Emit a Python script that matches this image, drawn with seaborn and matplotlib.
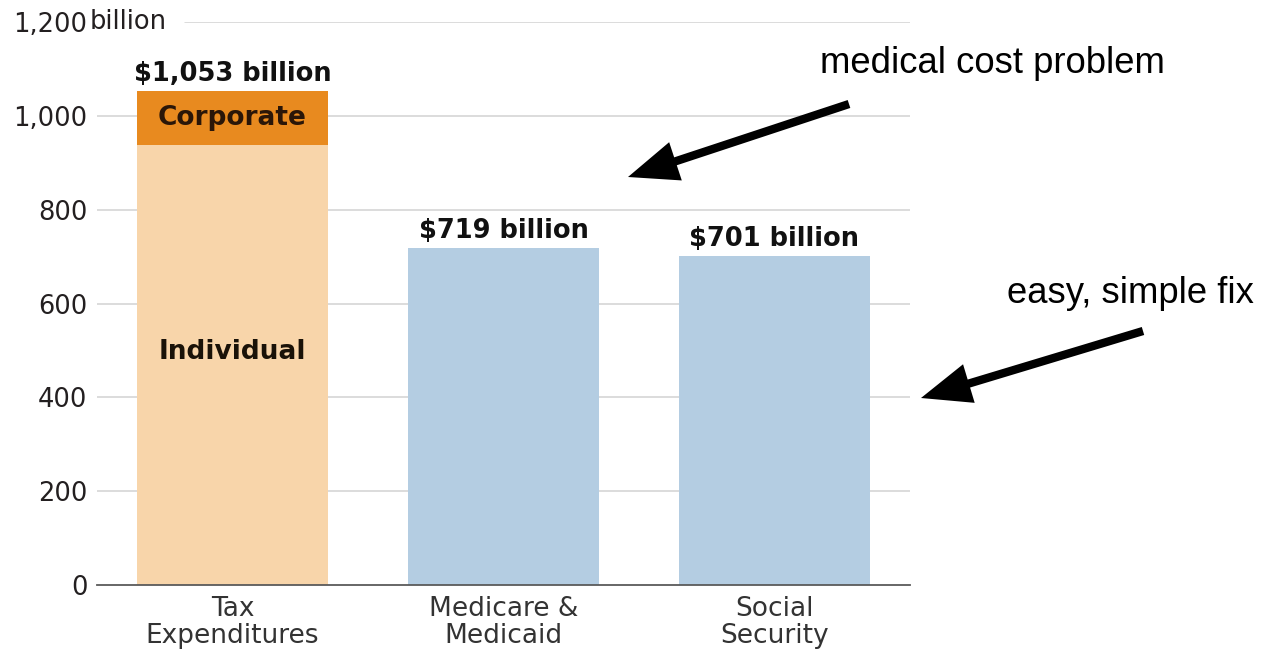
import matplotlib
matplotlib.use("Agg")
import matplotlib.pyplot as plt
import matplotlib.transforms as mtransforms
from matplotlib.patches import FancyArrowPatch
import pandas as pd
import seaborn as sns

# Spending categories and their totals, in billions of dollars
categories = ["Tax\nExpenditures", "Medicare &\nMedicaid", "Social\nSecurity"]
totals = [1053, 719, 701]
individual_part = [938]          # individual share of tax expenditures
value_labels = ["$1,053 billion", "$719 billion", "$701 billion"]
y_ticks = [0, 200, 400, 600, 800, 1000, 1200]
y_tick_labels = ["0", "200", "400", "600", "800", "1,000", "1,200"]

ORANGE = "#E88A1F"
PEACH = "#F8D5AA"
BLUE = "#B4CDE2"

sns.set_theme(style="white")
plt.rcParams["font.family"] = ["DejaVu Sans"]

W, H = 1278, 662
fig = plt.figure(figsize=(W / 100, H / 100), dpi=100)
ax = fig.add_axes([97 / W, 1 - 585 / H, 813 / W, 563 / H])

df_tot = pd.DataFrame({"category": categories, "value": totals})
df_ind = pd.DataFrame({"category": categories[:1], "value": individual_part})

# Full-height bars; the tax bar shows the corporate slice on top
sns.barplot(data=df_tot, x="category", y="value", hue="category", order=categories,
            palette={categories[0]: ORANGE, categories[1]: BLUE, categories[2]: BLUE},
            width=0.705, saturation=1, legend=False, ax=ax, zorder=3,
            edgecolor="none", linewidth=0)
# Individual part of the tax expenditures, drawn over the lower section
sns.barplot(data=df_ind, x="category", y="value", order=categories,
            color=PEACH, width=0.705, saturation=1, ax=ax, zorder=4,
            edgecolor="none", linewidth=0)

ax.set_xlim(-0.5, 2.5)
ax.set_ylim(0, 1200)
ax.set_xlabel("")
ax.set_ylabel("")

# Light horizontal rules; the top one makes room for its unit label
for t in y_ticks[1:]:
    xmin = 0.108 if t == y_ticks[-1] else 0.0
    ax.axhline(t, xmin=xmin, xmax=1, color="#d2d2d2", lw=1.1, zorder=1)

ax.set_yticks(y_ticks)
ax.set_yticklabels(y_tick_labels, fontsize=18.5, color="#231f20")
ax.tick_params(axis="y", length=0, pad=7)
ax.set_xticks(range(len(categories)))
ax.set_xticklabels(categories, fontsize=19, color="#333333", linespacing=1.05)
ax.tick_params(axis="x", length=0, pad=8)

for s in ["top", "right", "left"]:
    ax.spines[s].set_visible(False)
ax.spines["bottom"].set_color("#5a5a5a")
ax.spines["bottom"].set_linewidth(1.3)
ax.spines["bottom"].set_zorder(5)

# Unit after the top tick value
trans = mtransforms.blended_transform_factory(ax.transAxes, ax.transData)
ax.annotate("billion", xy=(0, y_ticks[-1]), xycoords=trans, xytext=(-5, 0),
            textcoords="offset points", ha="left", va="center",
            fontsize=18.5, color="#231f20")

# Totals above the bars
for i, (v, lab) in enumerate(zip(totals, value_labels)):
    ax.annotate(lab, xy=(i, v), xytext=(0, 7), textcoords="offset points",
                ha="center", va="baseline", fontsize=18.5, fontweight="bold",
                color="#111111", zorder=6)

# Labels inside the tax bar
ax.text(0, (totals[0] + individual_part[0]) / 2, "Corporate", ha="center", va="center",
        fontsize=19, fontweight="bold", color="#2a1608", zorder=6)
ax.text(0, 497, "Individual", ha="center", va="center",
        fontsize=19, fontweight="bold", color="#1a1208", zorder=6)

# Commentary with arrows
fig.text(820 / W, 1 - 73 / H, "medical cost problem", family="Liberation Sans",
         fontsize=26.3, color="black", ha="left", va="baseline")
fig.text(1254 / W, 1 - 303 / H, "easy, simple fix", family="Liberation Sans",
         fontsize=26.3, color="black", ha="right", va="baseline")

arrow_kw = dict(arrowstyle="simple,head_length=1.8,head_width=1.45,tail_width=0.3",
                mutation_scale=20, color="black", lw=0, shrinkA=0, shrinkB=0)
fig.add_artist(FancyArrowPatch((849 / W, 1 - 104 / H), (628 / W, 1 - 177 / H),
                               transform=fig.transFigure, **arrow_kw))
fig.add_artist(FancyArrowPatch((1143 / W, 1 - 331 / H), (921 / W, 1 - 398 / H),
                               transform=fig.transFigure, **arrow_kw))

fig.savefig("out.png", dpi=100)
